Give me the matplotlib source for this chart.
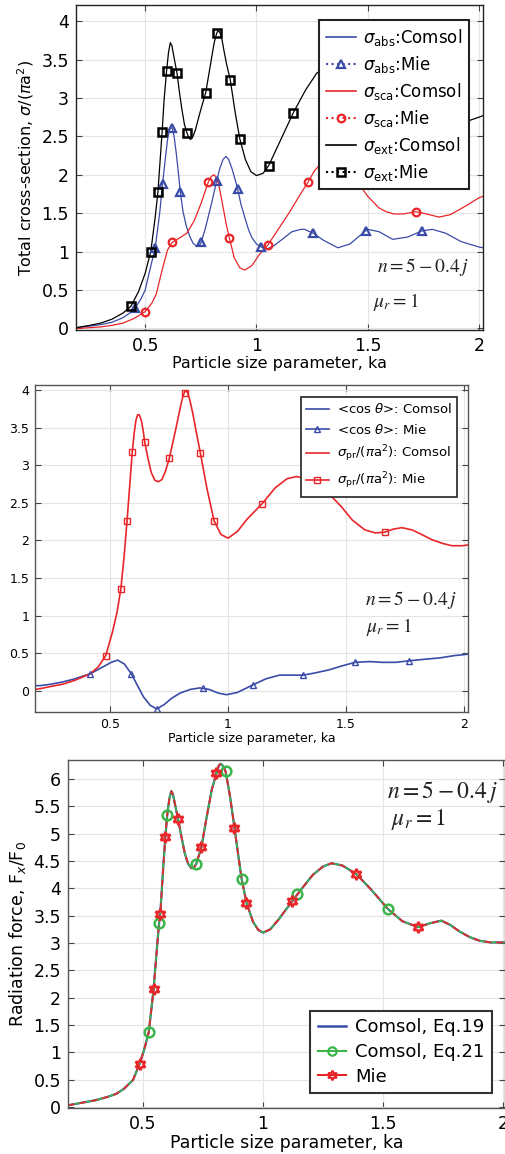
"""
Three stacked panels: cross-sections, <cos theta> / sigma_pr, radiation force
for a sphere with n = 5 - 0.4j, Comsol vs Mie.
"""

import matplotlib
matplotlib.use("Agg")
import matplotlib.pyplot as plt
from matplotlib.lines import Line2D

BLUE = "#3b4ba8"
RED = "#e8262a"
GREEN = "#3cb54a"

# ---- panel 1 : total cross-sections ----
abs_x = [0.19, 0.25, 0.3, 0.35, 0.4, 0.43, 0.455, 0.48, 0.5, 0.52, 0.545, 0.565, 0.578, 0.59,
         0.6, 0.608, 0.615, 0.622, 0.63, 0.64, 0.65, 0.658, 0.67, 0.685, 0.7, 0.715, 0.731,
         0.749, 0.77, 0.8, 0.821, 0.835, 0.85, 0.863, 0.875, 0.89, 0.9, 0.915, 0.93, 0.95,
         0.965, 0.98, 1.0, 1.022, 1.045, 1.08, 1.12, 1.16, 1.2, 1.216, 1.255, 1.3,
         1.366, 1.42, 1.49, 1.5, 1.55, 1.612, 1.68, 1.743, 1.791, 1.85, 1.92, 2.0, 2.018]
abs_y = [0.01, 0.03, 0.05, 0.08, 0.14, 0.2, 0.27, 0.38, 0.5, 0.75, 1.05, 1.5, 1.88, 2.2,
         2.45, 2.58, 2.62, 2.6, 2.5, 2.27, 2.0, 1.77, 1.52, 1.33, 1.2, 1.11, 1.07,
         1.1, 1.3, 1.65, 1.92, 2.08, 2.2, 2.24, 2.2, 2.08, 1.98, 1.82, 1.62, 1.42,
         1.28, 1.18, 1.1, 1.06, 1.03, 1.08, 1.17, 1.26, 1.29, 1.29, 1.24, 1.15,
         1.05, 1.1, 1.27, 1.29, 1.26, 1.16, 1.19, 1.27, 1.29, 1.24, 1.13, 1.06, 1.05]

sca_x = [0.19, 0.25, 0.3, 0.35, 0.4, 0.45, 0.5, 0.53, 0.55, 0.575, 0.6, 0.621, 0.65, 0.687, 0.72,
         0.75, 0.784, 0.797, 0.81, 0.82, 0.83, 0.842, 0.855, 0.866, 0.878, 0.9, 0.925, 0.948,
         0.98, 1.01, 1.052, 1.1, 1.15, 1.2, 1.231, 1.26, 1.3, 1.35, 1.4, 1.455, 1.5, 1.55,
         1.582, 1.618, 1.66, 1.716, 1.75, 1.82, 1.87, 1.92, 1.96, 2.0, 2.018]
sca_y = [0.0, 0.01, 0.02, 0.04, 0.07, 0.13, 0.22, 0.33, 0.45, 0.75, 1.02, 1.12, 1.17, 1.24, 1.4,
         1.62, 1.91, 1.98, 2.0, 1.96, 1.88, 1.7, 1.5, 1.33, 1.18, 0.92, 0.79, 0.76,
         0.82, 0.95, 1.09, 1.3, 1.52, 1.76, 1.9, 2.05, 2.18, 2.22, 2.12, 1.9, 1.72, 1.57,
         1.52, 1.49, 1.49, 1.52, 1.5, 1.45, 1.48, 1.56, 1.63, 1.70, 1.72]

ext_x = [0.19, 0.25, 0.3, 0.35, 0.4, 0.436, 0.47, 0.5, 0.525, 0.545, 0.557, 0.576, 0.585, 0.596,
         0.605, 0.613, 0.62, 0.63, 0.643, 0.655, 0.665, 0.676, 0.687, 0.696, 0.704, 0.715,
         0.725, 0.75, 0.772, 0.8, 0.81, 0.821, 0.828, 0.836, 0.845, 0.855, 0.865, 0.882, 0.905,
         0.925, 0.95, 0.975, 1.0, 1.03, 1.055, 1.1, 1.166, 1.22, 1.27, 1.33, 1.4,
         1.46, 1.52, 1.58, 1.64, 1.7, 1.76, 1.82, 1.88, 1.94, 2.0, 2.018]
ext_y = [0.01, 0.04, 0.07, 0.12, 0.2, 0.29, 0.48, 0.72, 1.0, 1.45, 1.77, 2.56, 2.98, 3.35,
         3.6, 3.72, 3.68, 3.52, 3.32, 3.05, 2.85, 2.66, 2.55, 2.48, 2.46, 2.5,
         2.58, 2.85, 3.07, 3.55, 3.72, 3.84, 3.88, 3.85, 3.76, 3.6, 3.45, 3.24, 2.8,
         2.47, 2.2, 2.04, 1.99, 2.02, 2.12, 2.4, 2.81, 3.1, 3.32, 3.45, 3.4,
         3.12, 2.96, 2.74, 2.65, 2.75, 2.78, 2.72, 2.69, 2.69, 2.75, 2.77]

abs_mie_x = [0.455, 0.545, 0.578, 0.619, 0.658, 0.749, 0.821, 0.915, 1.022, 1.255, 1.49, 1.746]
abs_mie_y = [0.27, 1.05, 1.88, 2.61, 1.77, 1.12, 1.92, 1.82, 1.06, 1.24, 1.27, 1.27]
sca_mie_x = [0.5, 0.621, 0.784, 0.878, 1.052, 1.231, 1.46, 1.716]
sca_mie_y = [0.22, 1.12, 1.91, 1.18, 1.09, 1.90, 1.90, 1.52]
ext_mie_x = [0.436, 0.525, 0.557, 0.576, 0.596, 0.643, 0.687, 0.772, 0.821, 0.882, 0.925,
             1.055, 1.166]
ext_mie_y = [0.29, 1.0, 1.77, 2.56, 3.35, 3.32, 2.55, 3.07, 3.84, 3.24, 2.47, 2.12, 2.81]

# ---- panel 2 : <cos theta> and sigma_pr ----
pr_x = [0.182, 0.204, 0.25, 0.3, 0.35, 0.417, 0.45, 0.482, 0.51, 0.53, 0.546, 0.56, 0.572, 0.584,
        0.594, 0.602, 0.61, 0.617, 0.624, 0.632, 0.64, 0.647, 0.66, 0.675, 0.69, 0.705, 0.72,
        0.735, 0.751, 0.78, 0.8, 0.81, 0.819, 0.828, 0.838, 0.85, 0.865, 0.883, 0.91, 0.941,
        0.97, 1.0, 1.04, 1.08, 1.145, 1.2, 1.25, 1.29, 1.33, 1.38, 1.428, 1.48, 1.527, 1.58,
        1.625, 1.664, 1.7, 1.737, 1.78, 1.82, 1.864, 1.91, 1.948, 1.993, 2.017]
pr_y = [0.02, 0.03, 0.06, 0.09, 0.14, 0.23, 0.32, 0.47, 0.78, 1.05, 1.36, 1.8, 2.26, 2.75,
        3.17, 3.42, 3.6, 3.67, 3.67, 3.6, 3.47, 3.31, 3.1, 2.9, 2.8, 2.78, 2.81,
        2.92, 3.09, 3.5, 3.8, 3.93, 3.99, 3.97, 3.87, 3.7, 3.45, 3.16, 2.7, 2.26,
        2.08, 2.03, 2.12, 2.28, 2.49, 2.7, 2.82, 2.85, 2.82, 2.74, 2.62, 2.45, 2.27, 2.14,
        2.10, 2.11, 2.15, 2.17, 2.14, 2.08, 2.01, 1.96, 1.93, 1.93, 1.94]
pr_mie_x = [0.482, 0.546, 0.572, 0.594, 0.647, 0.751, 0.817, 0.883, 0.941, 1.145, 1.664]
pr_mie_y = [0.47, 1.36, 2.26, 3.17, 3.31, 3.09, 3.96, 3.16, 2.26, 2.49, 2.11]

cos_x = [0.182, 0.204, 0.25, 0.3, 0.35, 0.417, 0.47, 0.505, 0.532, 0.56, 0.59, 0.615, 0.642, 0.67,
         0.698, 0.73, 0.76, 0.796, 0.84, 0.88, 0.92, 0.96, 0.993, 1.04, 1.105, 1.16, 1.218,
         1.27, 1.319, 1.37, 1.428, 1.48, 1.538, 1.6, 1.653, 1.71, 1.766, 1.83, 1.9, 1.96,
         1.993, 2.017]
cos_y = [0.07, 0.07, 0.09, 0.12, 0.16, 0.23, 0.32, 0.38, 0.41, 0.36, 0.23, 0.08, -0.08, -0.19,
         -0.24, -0.18, -0.1, -0.03, 0.02, 0.04, 0.02, -0.03, -0.05, -0.02, 0.08, 0.16, 0.21,
         0.21, 0.21, 0.24, 0.28, 0.33, 0.38, 0.39, 0.38, 0.38, 0.40, 0.42, 0.44, 0.47,
         0.48, 0.49]
cos_mie_x = [0.417, 0.59, 0.698, 0.895, 1.105, 1.319, 1.538, 1.766]
cos_mie_y = [0.23, 0.23, -0.24, 0.035, 0.08, 0.21, 0.38, 0.40]

# ---- panel 3 : radiation force ----
force_x = [0.1875, 0.2, 0.25, 0.3, 0.35, 0.389, 0.42, 0.458, 0.486, 0.505, 0.524, 0.544, 0.556,
           0.567, 0.572, 0.583, 0.593, 0.601, 0.61, 0.618, 0.625, 0.635, 0.646, 0.66, 0.674,
           0.688, 0.701, 0.712, 0.722, 0.743, 0.765, 0.786, 0.806, 0.815, 0.822, 0.83, 0.838,
           0.844, 0.862, 0.881, 0.897, 0.911, 0.931, 0.958, 0.98, 1.0, 1.03, 1.063, 1.09,
           1.121, 1.143, 1.175, 1.208, 1.25, 1.285, 1.33, 1.389, 1.45, 1.521, 1.58, 1.646,
           1.694, 1.743, 1.78, 1.819, 1.86, 1.903, 1.95, 2.0, 2.008]
force_y = [0.03, 0.04, 0.08, 0.12, 0.18, 0.24, 0.33, 0.49, 0.79, 1.05, 1.37, 2.15, 2.8,
           3.37, 3.54, 4.3, 4.94, 5.35, 5.65, 5.78, 5.72, 5.5, 5.27, 4.95, 4.64,
           4.45, 4.37, 4.38, 4.45, 4.75, 5.3, 5.8, 6.11, 6.24, 6.28, 6.26, 6.2,
           6.14, 5.7, 5.11, 4.6, 4.17, 3.74, 3.39, 3.24, 3.19, 3.25, 3.42, 3.58,
           3.76, 3.89, 4.07, 4.25, 4.4, 4.46, 4.42, 4.26, 3.98, 3.62, 3.4, 3.29,
           3.36, 3.41, 3.33, 3.21, 3.11, 3.04, 3.01, 3.01, 3.01]
eq21_mie_x = [0.524, 0.567, 0.601, 0.722, 0.844, 0.911, 1.143, 1.521]
eq21_mie_y = [1.37, 3.37, 5.35, 4.45, 6.14, 4.17, 3.89, 3.62]
mie_x = [0.486, 0.544, 0.572, 0.593, 0.646, 0.743, 0.806, 0.881, 0.931, 1.121, 1.389, 1.646]
mie_y = [0.79, 2.15, 3.54, 4.94, 5.27, 4.75, 6.11, 5.11, 3.74, 3.76, 4.26, 3.29]

W, H = 506, 1154
HEX = (6, 1, 0)  # six-pointed star


def px_axes(fig, x0, y0, x1, y1):
    """add axes from pixel box (top-left origin)"""
    return fig.add_axes([x0 / W, 1 - y1 / H, (x1 - x0) / W, (y1 - y0) / H])


def style(ax, fs, pad, edge="#333333"):
    ax.grid(True, color="#e4e4e4", lw=0.8)
    ax.set_axisbelow(True)
    ax.tick_params(direction="in", top=True, right=True, labelsize=fs, pad=pad,
                   length=4, color="#444444")
    for s in ax.spines.values():
        s.set_color(edge)
        s.set_linewidth(1.0)


def note(fig, x, y, s, fs):
    fig.text(x / W, 1 - y / H, s, fontsize=fs, math_fontfamily="stix",
             ha="left", va="center", color="#222222")


fig = plt.figure(figsize=(W / 100, H / 100), dpi=100)

# panel 1
ax = px_axes(fig, 76, 5, 483, 330)
ax.plot(abs_x, abs_y, color=BLUE, lw=0.9)
ax.plot(sca_x, sca_y, color=RED, lw=0.9)
ax.plot(ext_x, ext_y, color="black", lw=0.9)
ax.plot(abs_mie_x, abs_mie_y, ls="none", marker="^", ms=5.5, mfc="none", mec=BLUE, mew=1.6)
ax.plot(sca_mie_x, sca_mie_y, ls="none", marker="o", ms=5.5, mfc="none", mec=RED, mew=1.6)
ax.plot(ext_mie_x, ext_mie_y, ls="none", marker="s", ms=5.5, mfc="none", mec="black", mew=1.8)
ax.set_xlim(0.189, 2.018)
ax.set_ylim(-0.02, 4.21)
ax.set_xticks([0.5, 1, 1.5, 2])
ax.set_xticklabels(["0.5", "1", "1.5", "2"])
ax.set_yticks([0, 0.5, 1, 1.5, 2, 2.5, 3, 3.5, 4])
ax.set_yticklabels(["0", "0.5", "1", "1.5", "2", "2.5", "3", "3.5", "4"])
style(ax, 12.5, 5, edge="#222222")
ax.set_xlabel("Particle size parameter, ka", fontsize=11.5, labelpad=1)
ax.set_ylabel(r"Total cross-section, $\sigma$/($\pi$a$^2$)", fontsize=11.5, labelpad=4)
handles = [
    Line2D([], [], color=BLUE, lw=1.2),
    Line2D([], [], color=BLUE, ls=":", marker="^", ms=5.5, mfc="none", mew=1.6),
    Line2D([], [], color=RED, lw=1.2),
    Line2D([], [], color=RED, ls=":", marker="o", ms=5.5, mfc="none", mew=1.6),
    Line2D([], [], color="black", lw=1.2),
    Line2D([], [], color="black", ls=":", marker="s", ms=5.5, mfc="none", mew=1.8),
]
labels = [r"$\sigma_{\rm abs}$:Comsol", r"$\sigma_{\rm abs}$:Mie",
          r"$\sigma_{\rm sca}$:Comsol", r"$\sigma_{\rm sca}$:Mie",
          r"$\sigma_{\rm ext}$:Comsol", r"$\sigma_{\rm ext}$:Mie"]
leg = ax.legend(handles, labels, loc="upper right", bbox_to_anchor=(0.966, 0.954),
                borderaxespad=0, fontsize=12, handlelength=1.8, labelspacing=0.36,
                fancybox=False, framealpha=1, edgecolor="#222222", handletextpad=0.45)
leg.get_frame().set_linewidth(1.5)
note(fig, 377, 267, r"$n=5-0.4\,j$", 14)
note(fig, 373, 302, r"$\mu_r=1$", 14)

# panel 2
ax = px_axes(fig, 35, 385, 468, 712)
ax.plot(cos_x, cos_y, color=BLUE, lw=1.2)
ax.plot(pr_x, pr_y, color=RED, lw=1.2)
ax.plot(cos_mie_x, cos_mie_y, ls="none", marker="^", ms=4.5, mfc="none", mec=BLUE, mew=1.0)
ax.plot(pr_mie_x, pr_mie_y, ls="none", marker="s", ms=4.5, mfc="none", mec=RED, mew=1.0)
ax.set_xlim(0.182, 2.017)
ax.set_ylim(-0.28, 4.066)
ax.set_xticks([0.5, 1, 1.5, 2])
ax.set_xticklabels(["0.5", "1", "1.5", "2"])
ax.set_yticks([0, 0.5, 1, 1.5, 2, 2.5, 3, 3.5, 4])
ax.set_yticklabels(["0", "0.5", "1", "1.5", "2", "2.5", "3", "3.5", "4"])
style(ax, 9, 4, edge="#555555")
ax.set_xlabel("Particle size parameter, ka", fontsize=9, labelpad=1)
handles = [
    Line2D([], [], color=BLUE, lw=1.2),
    Line2D([], [], color=BLUE, lw=1.2, marker="^", ms=4.5, mfc="none", mew=1.0),
    Line2D([], [], color=RED, lw=1.2),
    Line2D([], [], color=RED, lw=1.2, marker="s", ms=4.5, mfc="none", mew=1.0),
]
labels = [r"<cos $\theta$>: Comsol", r"<cos $\theta$>: Mie",
          r"$\sigma_{\rm pr}$/($\pi$a$^2$): Comsol", r"$\sigma_{\rm pr}$/($\pi$a$^2$): Mie"]
leg = ax.legend(handles, labels, loc="upper right", bbox_to_anchor=(0.975, 0.963),
                borderaxespad=0, fontsize=9.5, handlelength=1.7, labelspacing=0.5,
                fancybox=False, framealpha=1, edgecolor="#333333", handletextpad=0.6)
leg.get_frame().set_linewidth(1.3)
note(fig, 365, 600, r"$n=5-0.4\,j$", 14)
note(fig, 366, 627, r"$\mu_r=1$", 14)

# panel 3
ax = px_axes(fig, 68, 760, 505, 1108)
ax.plot(force_x, force_y, color=BLUE, lw=1.6)
ax.plot(force_x, force_y, color=GREEN, lw=1.2)
ax.plot(force_x, force_y, color=RED, lw=1.2, ls=(0, (4, 3)))
ax.plot(eq21_mie_x, eq21_mie_y, ls="none", marker="o", ms=7, mfc="none", mec=GREEN, mew=1.8)
ax.plot(mie_x, mie_y, ls="none", marker=HEX, ms=8, mfc="none", mec=RED, mew=1.8)
ax.set_xlim(0.1875, 2.008)
ax.set_ylim(-0.02, 6.35)
ax.set_xticks([0.5, 1, 1.5, 2])
ax.set_xticklabels(["0.5", "1", "1.5", "2"])
ax.set_yticks([0, 0.5, 1, 1.5, 2, 2.5, 3, 3.5, 4, 4.5, 5, 5.5, 6])
ax.set_yticklabels(["0", "0.5", "1", "1.5", "2", "2.5", "3", "3.5", "4", "4.5", "5",
                    "5.5", "6"])
style(ax, 12.5, 5, edge="#555555")
ax.set_xlabel("Particle size parameter, ka", fontsize=12.5, labelpad=1)
ax.set_ylabel(r"Radiation force, F$_x$/F$_0$", fontsize=12.5, labelpad=4)
handles = [
    Line2D([], [], color=BLUE, lw=1.8),
    Line2D([], [], color=GREEN, lw=1.5, marker="o", ms=6, mfc="none", mew=1.6),
    Line2D([], [], color=RED, lw=1.5, marker=HEX, ms=7, mfc="none", mew=1.6),
]
labels = ["Comsol, Eq.19", "Comsol, Eq.21", "Mie"]
leg = ax.legend(handles, labels, loc="lower right", bbox_to_anchor=(0.970, 0.043),
                borderaxespad=0, fontsize=13, handlelength=1.6, labelspacing=0.38,
                fancybox=False, framealpha=1, edgecolor="#333333", handletextpad=0.5)
leg.get_frame().set_linewidth(1.5)
note(fig, 387, 792, r"$n=5-0.4\,j$", 17)
note(fig, 391, 820, r"$\mu_r=1$", 17)

fig.savefig("out.png", dpi=100)
